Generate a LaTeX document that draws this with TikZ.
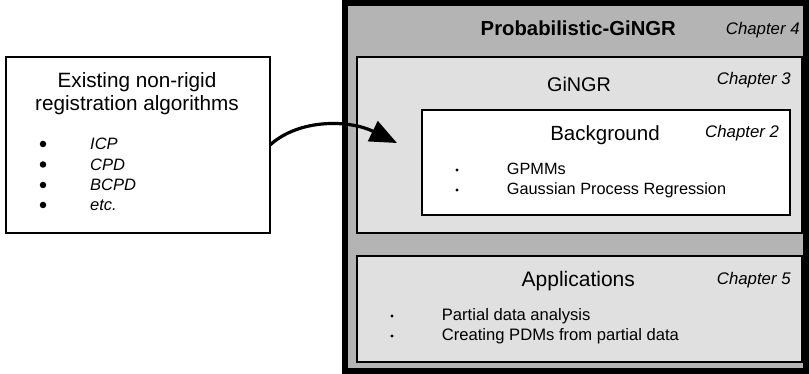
\documentclass[tikz,border=0pt]{standalone}
\usepackage{fontspec}
\setmainfont{Liberation Sans}
\usetikzlibrary{arrows.meta}
\definecolor{outergray}{RGB}{180,180,180}
\definecolor{innergray}{RGB}{224,224,224}
\tikzset{
  boxthin/.style={draw=black, line width=1.5pt, inner sep=0pt, outer sep=0pt},
  titletxt/.style={anchor=base, inner sep=0pt, font=\fontsize{20.5}{24}\selectfont},
  chaptxt/.style={anchor=base west, inner sep=0pt, font=\fontsize{16.8}{20}\selectfont\itshape},
  itemtxt/.style={anchor=base west, inner sep=0pt, font=\fontsize{16.3}{20}\selectfont},
  bigdot/.style={circle, fill=black, inner sep=0pt, minimum size=6.5pt},
  smalldot/.style={circle, fill=black, inner sep=0pt, minimum size=3.2pt},
}
\begin{document}
\begin{tikzpicture}[x=1pt,y=-1pt]
\useasboundingbox (0,0) rectangle (809,374);
% outer box
\node[draw=black, line width=6pt, fill=outergray, inner sep=0pt, outer sep=0pt,
      minimum width=461pt, minimum height=368pt] (prob) at (575.5,187) {};
\node[titletxt, font=\fontsize{20.3}{24}\selectfont\bfseries] (probt) at (578.3,36) {Probabilistic-GiNGR};
\node[chaptxt] (ch4) at (725.7,35) {Chapter 4};
% GiNGR box
\node[boxthin, fill=innergray, minimum width=445pt, minimum height=176pt] (gingr) at (579.5,145) {};
\node[titletxt, font=\fontsize{19.8}{24}\selectfont] (gingrt) at (579,92) {GiNGR};
\node[chaptxt] (ch3) at (716.7,85) {Chapter 3};
% Background box
\node[boxthin, fill=white, minimum width=368pt, minimum height=105pt] (bg) at (606,162.5) {};
\node[titletxt] (bgt) at (605,140.7) {Background};
\node[chaptxt] (ch2) at (705,137.3) {Chapter 2};
\node[smalldot] (bd1) at (457,170) {};
\node[itemtxt] (gp) at (506.7,175) {GPMMs};
\node[smalldot] (bd2) at (457,190) {};
\node[itemtxt] (gpr) at (506.7,195) {Gaussian Process Regression};
% Applications box
\node[boxthin, fill=innergray, minimum width=445pt, minimum height=106pt] (app) at (579.5,309) {};
\node[titletxt, font=\fontsize{21}{24}\selectfont] (appt) at (578.3,286.7) {Applications};
\node[chaptxt] (ch5) at (716.7,284.3) {Chapter 5};
\node[smalldot] (ad1) at (392,316) {};
\node[itemtxt, font=\fontsize{16.6}{20}\selectfont] (pda) at (441.7,320.7) {Partial data analysis};
\node[smalldot] (ad2) at (392,336) {};
\node[itemtxt, font=\fontsize{16.6}{20}\selectfont] (cpdm) at (441.7,340.7) {Creating PDMs from partial data};
% Left box
\node[boxthin, fill=white, minimum width=264pt, minimum height=176pt] (exist) at (138,145) {};
\node[titletxt, font=\fontsize{20.7}{24}\selectfont] (ex1) at (137,88) {Existing non-rigid};
\node[titletxt, font=\fontsize{20.7}{24}\selectfont] (ex2) at (137,111) {registration algorithms};
\node[bigdot] (ed1) at (43,144) {};
\node[itemtxt, font=\fontsize{16.5}{20}\selectfont\itshape] (icp) at (90,150) {ICP};
\node[bigdot] (ed2) at (43,164.5) {};
\node[itemtxt, font=\fontsize{16.5}{20}\selectfont\itshape] (cpd) at (90,170.3) {CPD};
\node[bigdot] (ed3) at (43,185) {};
\node[itemtxt, font=\fontsize{16.5}{20}\selectfont\itshape] (bcpd) at (90,190.6) {BCPD};
\node[bigdot] (ed4) at (43,205) {};
\node[itemtxt, font=\fontsize{16.5}{20}\selectfont\itshape] (etc) at (90,210.8) {etc.};
% arrow
\coordinate (tip) at (397,143);
\draw[line width=3.2pt, -{Triangle[length=27pt, width=22pt]}]
  (exist.east) .. controls (300,118) and (350,120) .. (tip);
\end{tikzpicture}
\end{document}
